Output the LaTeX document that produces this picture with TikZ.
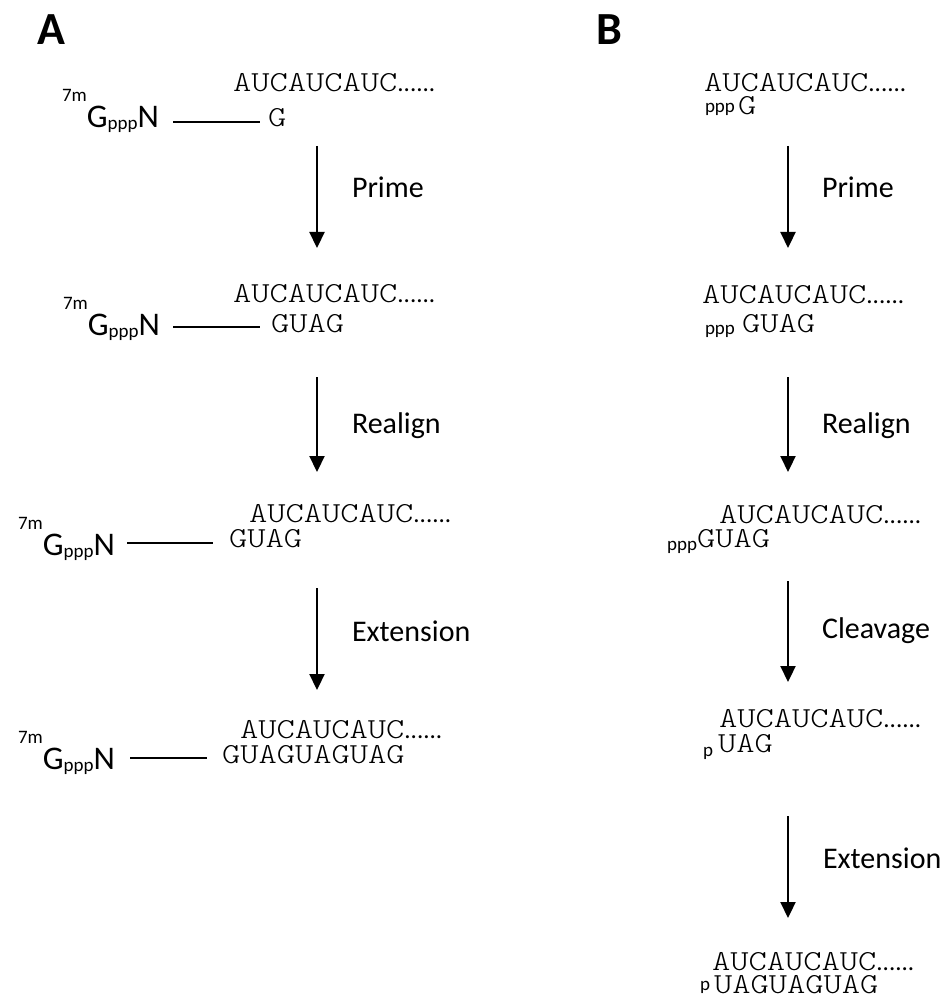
\documentclass[tikz,border=0pt]{standalone}
\usepackage{fontspec}
\setmainfont{Carlito}
\newfontfamily\seqfont{lmmonolt10-regular.otf}[FakeStretch=1.2]
\usetikzlibrary{arrows.meta}
\newcommand\sq[1]{{\seqfont\fontsize{29}{29}\selectfont #1}}
\newcommand\dt{{\fontsize{25}{25}\selectfont ......}}
\newcommand\smp[1]{{\fontsize{19}{19}\selectfont #1}}
\newcommand\capN{\smp{\raisebox{26pt}{7m}}{\fontsize{33}{33}\selectfont G}\smp{\raisebox{-2pt}{ppp}}{\fontsize{33}{33}\selectfont N}}
\tikzset{
  t/.style={anchor=base west, inner sep=0pt, outer sep=0pt},
  te/.style={anchor=base east, inner sep=0pt, outer sep=0pt},
  lbl/.style={t, font=\fontsize{30}{30}\selectfont},
  panel/.style={t, font=\fontsize{46}{46}\selectfont\bfseries},
  arr/.style={-{Triangle[width=15pt,length=16pt]}, line width=2.2pt},
  link/.style={line width=1.8pt}
}
\begin{document}
\begin{tikzpicture}[x=1pt,y=-1pt]
\useasboundingbox (0,0) rectangle (946,1000);
% panel labels
\node[panel] (pA) at (37,45) {A};
\node[panel] (pB) at (596,45) {B};
% ---------- Panel A ----------
% row 1
\node[t] (a1top) at (233,92) {\sq{AUCAUCAUC}\dt};
\node[t] (a1cap) at (62,128) {\capN};
\node[t] (a1bot) at (268,127) {\sq{G}};
\coordinate (a1l) at (173,122); \coordinate (a1r) at (260,122);
\draw[link] (a1l) -- (a1r);
% arrow 1
\coordinate (a1s) at (317,146); \coordinate (a1e) at (317,248);
\draw[arr] (a1s) -- (a1e);
\node[lbl] (aPrime) at (352,198) {Prime};
% row 2
\node[t] (a2top) at (233,302) {\sq{AUCAUCAUC}\dt};
\node[t] (a2cap) at (63,335) {\capN};
\node[t] (a2bot) at (271,332) {\sq{GUAG}};
\coordinate (a2l) at (173,327); \coordinate (a2r) at (260,327);
\draw[link] (a2l) -- (a2r);
% arrow 2
\coordinate (a2s) at (317,377); \coordinate (a2e) at (317,472);
\draw[arr] (a2s) -- (a2e);
\node[lbl] (aRealign) at (352,433) {Realign};
% row 3
\node[t] (a3top) at (249,522) {\sq{AUCAUCAUC}\dt};
\node[t] (a3cap) at (18,555) {\capN};
\node[t] (a3bot) at (229,547) {\sq{GUAG}};
\coordinate (a3l) at (127,543); \coordinate (a3r) at (213,543);
\draw[link] (a3l) -- (a3r);
% arrow 3
\coordinate (a3s) at (317,588); \coordinate (a3e) at (317,690);
\draw[arr] (a3s) -- (a3e);
\node[lbl] (aExt) at (352,641) {Extension};
% row 4
\node[t] (a4top) at (240,738) {\sq{AUCAUCAUC}\dt};
\node[t] (a4cap) at (18,769) {\capN};
\node[t] (a4bot) at (222,763) {\sq{GUAGUAGUAG}};
\coordinate (a4l) at (130,758); \coordinate (a4r) at (207,758);
\draw[link] (a4l) -- (a4r);
% ---------- Panel B ----------
% row 1
\node[t] (b1top) at (704,92) {\sq{AUCAUCAUC}\dt};
\node[t] (b1p) at (705,113) {\smp{ppp}};
\node[t] (b1bot) at (738,115) {\sq{G}};
\coordinate (b1s) at (788,146); \coordinate (b1e) at (788,248);
\draw[arr] (b1s) -- (b1e);
\node[lbl] (bPrime) at (822,198) {Prime};
% row 2
\node[t] (b2top) at (702,303) {\sq{AUCAUCAUC}\dt};
\node[t] (b2p) at (705,334) {\smp{ppp}};
\node[t] (b2bot) at (742,332) {\sq{GUAG}};
\coordinate (b2s) at (788,377); \coordinate (b2e) at (788,472);
\draw[arr] (b2s) -- (b2e);
\node[lbl] (bRealign) at (822,433) {Realign};
% row 3
\node[t] (b3top) at (719,523) {\sq{AUCAUCAUC}\dt};
\node[te] (b3p) at (697,550) {\smp{ppp}};
\node[t] (b3bot) at (697,547) {\sq{GUAG}};
\coordinate (b3s) at (788,581); \coordinate (b3e) at (788,682);
\draw[arr] (b3s) -- (b3e);
\node[lbl] (bCleave) at (822,638) {Cleavage};
% row 4
\node[t] (b4top) at (719,727) {\sq{AUCAUCAUC}\dt};
\node[t] (b4p) at (703,756) {\smp{p}};
\node[t] (b4bot) at (718,752) {\sq{UAG}};
\coordinate (b4s) at (788,816); \coordinate (b4e) at (788,918);
\draw[arr] (b4s) -- (b4e);
\node[lbl] (bExt) at (823,868) {Extension};
% row 5
\node[t] (b5top) at (712,970) {\sq{AUCAUCAUC}\dt};
\node[t] (b5p) at (700,990) {\smp{p}};
\node[t] (b5bot) at (714,993) {\sq{UAGUAGUAG}};
\end{tikzpicture}
\end{document}
